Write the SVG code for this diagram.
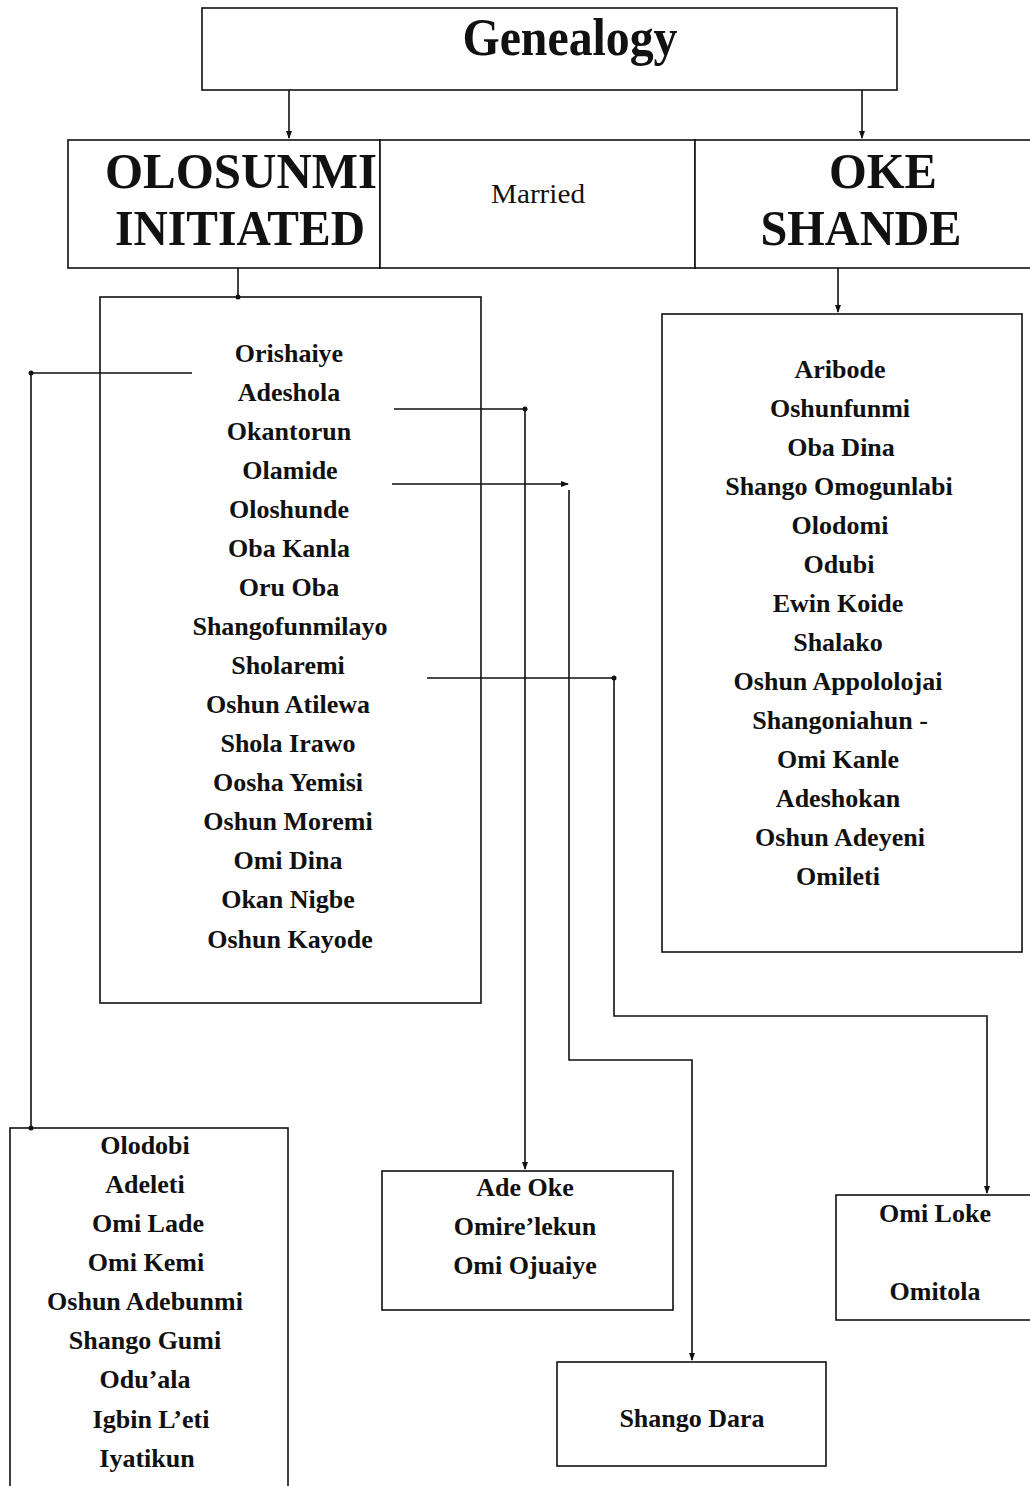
<svg xmlns="http://www.w3.org/2000/svg" width="1030" height="1486" viewBox="0 0 1030 1486">
<style>
.box{fill:#fff;stroke:#111;stroke-width:1.6}
.t{font-family:"Liberation Serif","Times New Roman",serif;font-weight:bold;font-size:26px;fill:#111;text-anchor:middle}
.big{font-family:"Liberation Serif","Times New Roman",serif;font-weight:bold;font-size:50px;fill:#111;text-anchor:middle}
.m{font-family:"Liberation Serif","Times New Roman",serif;font-size:27px;fill:#111;text-anchor:middle}
.c{fill:none;stroke:#111;stroke-width:1.6}
</style>
<defs>
<marker id="ah" markerWidth="8" markerHeight="8" refX="7" refY="4" orient="auto" markerUnits="userSpaceOnUse">
<path d="M0,1 L8,4 L0,7 Z" fill="#111"/>
</marker>
</defs>
<rect width="1030" height="1486" fill="#fff"/>

<g id="genealogy">
<rect class="box" x="202" y="8" width="695" height="82"/>
<text class="big" x="570" y="55" style="font-size:52px" textLength="215" lengthAdjust="spacingAndGlyphs">Genealogy</text>
</g>

<g id="olosunmi">
<rect class="box" x="68" y="140" width="312" height="128"/>
<text class="big" x="241" y="188" textLength="272" lengthAdjust="spacingAndGlyphs">OLOSUNMI</text>
<text class="big" x="240" y="245" textLength="250" lengthAdjust="spacingAndGlyphs">INITIATED</text>
</g>

<g id="married">
<rect class="box" x="380" y="140" width="315" height="128"/>
<text class="m" x="538" y="203" textLength="94" lengthAdjust="spacingAndGlyphs">Married</text>
</g>

<g id="okeshande">
<rect class="box" x="695" y="140" width="340" height="128"/>
<text class="big" x="883" y="188" textLength="108" lengthAdjust="spacingAndGlyphs">OKE</text>
<text class="big" x="861" y="245" textLength="201" lengthAdjust="spacingAndGlyphs">SHANDE</text>
</g>

<g id="olosunmi-list">
<rect class="box" x="100" y="297" width="381" height="706"/>
<text class="t" x="289" y="362">Orishaiye</text>
<text class="t" x="289" y="401">Adeshola</text>
<text class="t" x="289" y="440">Okantorun</text>
<text class="t" x="290" y="479">Olamide</text>
<text class="t" x="289" y="518">Oloshunde</text>
<text class="t" x="289" y="557">Oba Kanla</text>
<text class="t" x="289" y="596">Oru Oba</text>
<text class="t" x="290" y="635">Shangofunmilayo</text>
<text class="t" x="288" y="674">Sholaremi</text>
<text class="t" x="288" y="713">Oshun Atilewa</text>
<text class="t" x="288" y="752">Shola Irawo</text>
<text class="t" x="288" y="791">Oosha Yemisi</text>
<text class="t" x="288" y="830">Oshun Moremi</text>
<text class="t" x="288" y="869">Omi Dina</text>
<text class="t" x="288" y="908">Okan Nigbe</text>
<text class="t" x="290" y="948">Oshun Kayode</text>
</g>

<g id="oke-list">
<rect class="box" x="662" y="314" width="360" height="638"/>
<text class="t" x="840" y="378">Aribode</text>
<text class="t" x="840" y="417">Oshunfunmi</text>
<text class="t" x="841" y="456">Oba Dina</text>
<text class="t" x="839" y="495">Shango Omogunlabi</text>
<text class="t" x="840" y="534">Olodomi</text>
<text class="t" x="839" y="573">Odubi</text>
<text class="t" x="838" y="612">Ewin Koide</text>
<text class="t" x="838" y="651">Shalako</text>
<text class="t" x="838" y="690">Oshun Appololojai</text>
<text class="t" x="840" y="729">Shangoniahun -</text>
<text class="t" x="838" y="768">Omi Kanle</text>
<text class="t" x="838" y="807">Adeshokan</text>
<text class="t" x="840" y="846">Oshun Adeyeni</text>
<text class="t" x="838" y="885">Omileti</text>
</g>

<g id="olodobi-list">
<rect class="box" x="10" y="1128" width="278" height="370"/>
<text class="t" x="145" y="1154">Olodobi</text>
<text class="t" x="145" y="1193">Adeleti</text>
<text class="t" x="148" y="1232">Omi  Lade</text>
<text class="t" x="146" y="1271">Omi Kemi</text>
<text class="t" x="145" y="1310">Oshun Adebunmi</text>
<text class="t" x="145" y="1349">Shango Gumi</text>
<text class="t" x="145" y="1388">Odu’ala</text>
<text class="t" x="151" y="1428">Igbin L’eti</text>
<text class="t" x="147" y="1467">Iyatikun</text>
</g>

<g id="adeoke-list">
<rect class="box" x="382" y="1171" width="291" height="139"/>
<text class="t" x="525" y="1196">Ade Oke</text>
<text class="t" x="525" y="1235">Omire’lekun</text>
<text class="t" x="525" y="1274">Omi Ojuaiye</text>
</g>

<g id="shangodara">
<rect class="box" x="557" y="1362" width="269" height="104"/>
<text class="t" x="692" y="1427">Shango Dara</text>
</g>

<g id="omiloke-list">
<rect class="box" x="836" y="1195" width="200" height="125"/>
<text class="t" x="935" y="1222">Omi Loke</text>
<text class="t" x="935" y="1300">Omitola</text>
</g>

<g id="connectors">
<path class="c" d="M289 90 V138" marker-end="url(#ah)"/>
<path class="c" d="M862 90 V138" marker-end="url(#ah)"/>
<path class="c" d="M238 268 V297"/>
<circle cx="238" cy="297" r="2.5" fill="#111"/>
<path class="c" d="M838 268 V312" marker-end="url(#ah)"/>
<path class="c" d="M192 373 H31 V1128"/>
<circle cx="31" cy="373" r="2.5" fill="#111"/>
<circle cx="31" cy="1128" r="2.5" fill="#111"/>
<path class="c" d="M394 409 H525 V1169" marker-end="url(#ah)"/>
<circle cx="525" cy="409" r="2.5" fill="#111"/>
<path class="c" d="M392 484 H568" marker-end="url(#ah)"/>
<path class="c" d="M569 490 V1060 H692 V1360" marker-end="url(#ah)"/>
<path class="c" d="M427 678 H614 V1016 H987 V1193" marker-end="url(#ah)"/>
<circle cx="614" cy="678" r="2.5" fill="#111"/>
</g>
</svg>
